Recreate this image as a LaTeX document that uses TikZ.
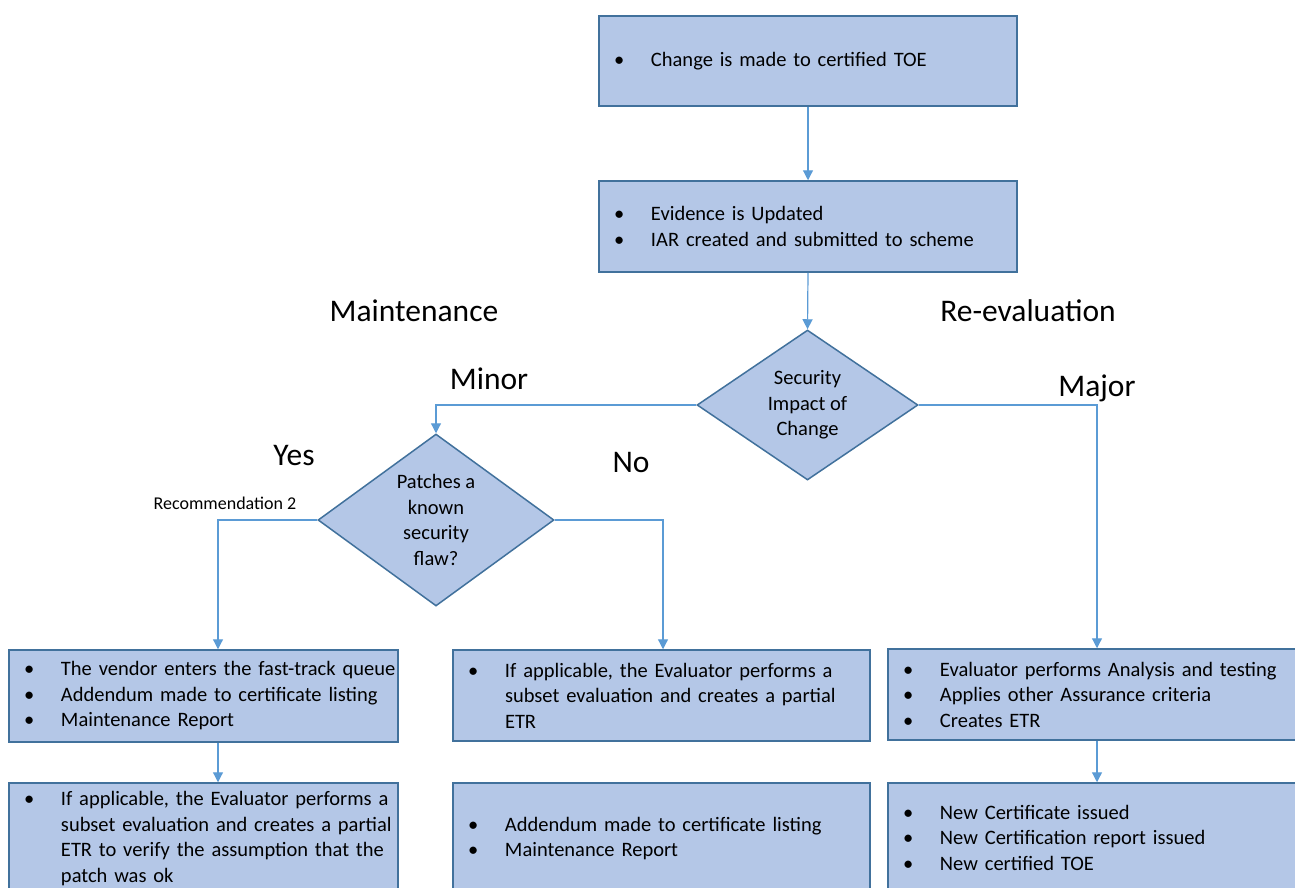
\documentclass[tikz,border=0pt]{standalone}
\usepackage{fontspec}
\setmainfont{Carlito}
\usetikzlibrary{arrows.meta,shapes.geometric}
\definecolor{boxfill}{HTML}{B4C7E7}
\definecolor{boxline}{HTML}{41719C}
\definecolor{arrline}{HTML}{5B9BD5}
\newcommand{\bitem}{\hspace*{14pt}\makebox[37pt][l]{\textbullet}}
\newcommand{\bcont}{\hspace*{51pt}}
\tikzset{
  box/.style={rectangle, draw=boxline, fill=boxfill, line width=1.5pt,
    inner xsep=1pt, inner ysep=0pt, align=left,
    font=\fontsize{20.5}{25.5}\selectfont},
  dia/.style={diamond, draw=boxline, fill=boxfill, line width=1.5pt,
    inner sep=0pt, align=center, font=\fontsize{20.5}{25.5}\selectfont},
  arr/.style={draw=arrline, line width=1.2pt, -{Triangle[length=10pt,width=10pt]}},
  biglab/.style={anchor=base, font=\fontsize{31.5}{36}\selectfont},
  smalllab/.style={anchor=base, font=\fontsize{18}{22}\selectfont}
}
\begin{document}
\begin{tikzpicture}[x=1pt,y=-1pt]
\clip (0,0) rectangle (1295,887);
\fill[white] (0,0) rectangle (1295,887);

\node[box, minimum width=418pt, minimum height=90pt, text width=416pt] (b1) at (808,61)
  {\bitem Change is made to certified TOE};
\node[box, minimum width=418pt, minimum height=91pt, text width=416pt] (b2) at (808,226.5)
  {\bitem Evidence is Updated\\ \bitem IAR created and submitted to scheme};

\node[dia, minimum width=221pt, minimum height=150pt] (d1) at (807.5,405)
  {Security\\Impact of\\Change};
\node[dia, minimum width=236pt, minimum height=172pt] (d2) at (436,520)
  {Patches a\\known\\security\\flaw?};

\node[box, minimum width=389pt, minimum height=92pt, text width=387pt] (l1) at (203.5,696)
  {\bitem The vendor enters the fast-track queue\\ \bitem Addendum made to certificate listing\\ \bitem Maintenance Report};
\node[box, minimum width=417pt, minimum height=91pt, text width=415pt] (m1) at (661.5,695.5)
  {\bitem If applicable, the Evaluator performs a\\ \bcont subset evaluation and creates a partial\\ \bcont ETR};
\node[box, minimum width=418pt, minimum height=91pt, text width=416pt] (r1) at (1097,694.5)
  {\bitem Evaluator performs Analysis and testing\\ \bitem Applies other Assurance criteria\\ \bitem Creates ETR};

\node[box, minimum width=389pt, minimum height=111pt, text width=387pt] (l2) at (203.5,838.5)
  {\bitem If applicable, the Evaluator performs a\\ \bcont subset evaluation and creates a partial\\ \bcont ETR to verify the assumption that the\\ \bcont patch was ok};
\node[box, minimum width=417pt, minimum height=111pt, text width=415pt] (m2) at (661.5,838.5)
  {\bitem Addendum made to certificate listing\\ \bitem Maintenance Report};
\node[box, minimum width=418pt, minimum height=109pt, text width=416pt] (r2) at (1097,837.5)
  {\bitem New Certificate issued\\ \bitem New Certification report issued\\ \bitem New certified TOE};

\draw[arr] (b1.south) -- (b2.north);
\draw[arr] (b2.south) -- (d1.north);
\draw[arr] (d1.west) -| (d2.north);
\draw[arr] (d1.east) -| (r1.north);
\draw[arr] (d2.west) -| ([xshift=14.5pt]l1.north);
\draw[arr] (d2.east) -| ([xshift=1.5pt]m1.north);
\draw[arr] ([xshift=14.5pt]l1.south) -- ([xshift=14.5pt]l2.north);
\draw[arr] (r1.south) -- (r2.north);

\node[biglab] (lmaint) at (414,321) {Maintenance};
\node[biglab] (lreeval) at (1028,321) {Re-evaluation};
\node[biglab] (lminor) at (489,389) {Minor};
\node[biglab] (lmajor) at (1097,396) {Major};
\node[biglab] (lyes) at (294,465) {Yes};
\node[biglab] (lno) at (631,472) {No};
\node[smalllab] (lrec) at (225,509) {Recommendation 2};
\end{tikzpicture}
\end{document}
